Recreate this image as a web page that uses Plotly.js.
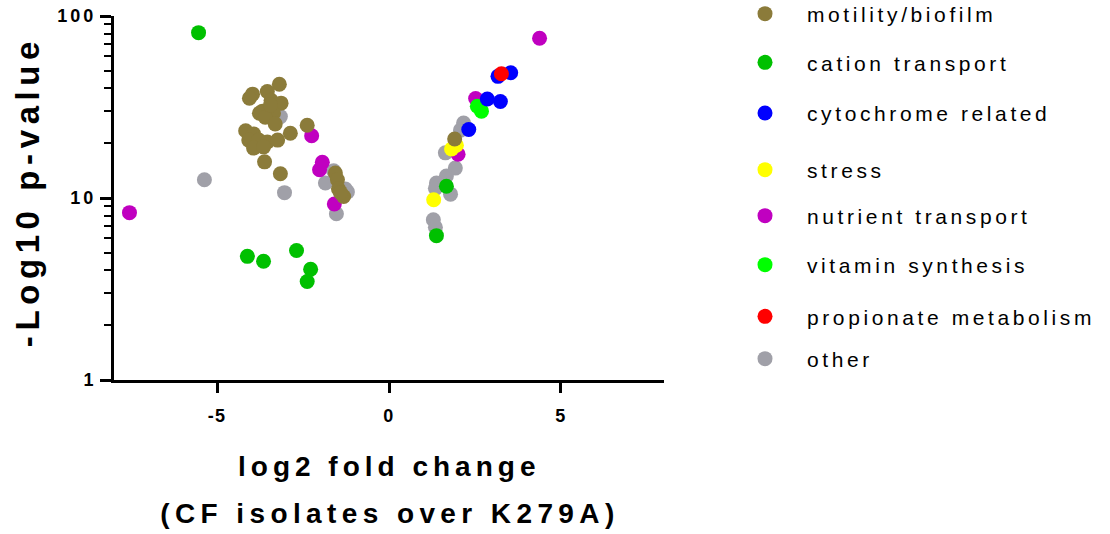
<!DOCTYPE html>
<html>
<head>
<meta charset="utf-8">
<script src="https://cdn.plot.ly/plotly-3.0.1.min.js"></script>
<style>
  html, body { margin: 0; padding: 0; background: #fff; }
  #chart { width: 1110px; height: 534px; }
  .annotation[data-index="0"] .annotation-text { letter-spacing: 5.6px; }
  .annotation[data-index="1"] .annotation-text { letter-spacing: 5px; }
  .annotation[data-index="2"] .annotation-text { letter-spacing: 5.4px; }
  .ytick text { letter-spacing: 3px; }
  .xtick text { letter-spacing: 1.5px; }
</style>
</head>
<body>
<div id="chart"></div>
<script>
// ---- data (log2 fold change, -log10 p-value) ----
const categories = ["motility/biofilm", "cation transport", "cytochrome related", "stress",
                    "nutrient transport", "vitamin synthesis", "propionate metabolism", "other"];

const motilityX = [-3.19,-3.97,-3.54,-3.43,-3.14,-4.06,-3.68,-3.77,-3.36,-3.60,-3.31,-2.38,-2.87,-4.17,-3.94,
                   -4.08,-3.79,-3.54,-3.24,-3.94,-3.65,-3.62,-3.16,-1.56,-1.50,-1.47,-1.32,-1.41,-3.45,1.91];
const motilityY = [42.2,37.2,38.5,34.4,33.2,35.3,30.0,29.2,29.2,27.8,25.5,25.1,22.7,23.4,22.5,
                   20.8,20.8,20.3,20.8,18.8,19.1,15.8,13.6,13.7,12.6,11.2,10.2,10.7,32.4,21.1];

const cationX = [-5.54,-4.12,-3.65,-2.69,-2.28,-2.38,1.67,1.38];
const cationY = [81,4.78,4.49,5.15,4.06,3.48,11.6,6.21];

const cytochromeX = [3.17,3.54,2.86,3.24,2.32];
const cytochromeY = [46.6,48.8,35.0,33.9,23.8];

const stressX = [1.30,1.82,1.96];
const stressY = [9.79,18.6,19.5];

const nutrientX = [-7.55,4.38,2.52,2.01,-2.25,-1.94,-2.02,-1.59];
const nutrientY = [8.31,75.4,35.2,17.4,22.0,15.7,14.3,9.27];

const vitaminX = [2.57,2.69];
const vitaminY = [31.9,30.0];

const propionateX = [3.27];
const propionateY = [48.2];

const otherX = [-5.37,-3.04,-3.16,-1.85,-1.27,-1.53,-1.61,-1.21,2.17,2.08,1.64,1.93,1.67,1.38,1.35,1.79,1.29,1.35];
const otherY = [12.6,10.7,28.0,12.1,11.2,8.2,14.1,10.8,25.8,23.6,17.7,14.6,13.2,12.1,11.3,10.5,7.6,6.9];

const yTickVals = [1, 10, 100];
const yTickText = ["1", "10", "100"];
const yMinorVals = [2,3,4,5,6,7,8,9,20,30,40,50,60,70,80,90];
const xTickVals = [-5, 0, 5];
const xTickText = ["-5", "0", "5"];

// ---- styling ----
const FONT = "Liberation Sans, Arial, Helvetica, sans-serif";
const LEGEND_SPACING = "3.6px";
const colors = {
  "motility/biofilm": "#8B7B3A",
  "cation transport": "#00C000",
  "cytochrome related": "#0000FF",
  "stress": "#FFFF00",
  "nutrient transport": "#C000C0",
  "vitamin synthesis": "#00FF00",
  "propionate metabolism": "#FF0000",
  "other": "#A0A0A8"
};
const series = {
  "motility/biofilm": [motilityX, motilityY],
  "cation transport": [cationX, cationY],
  "cytochrome related": [cytochromeX, cytochromeY],
  "stress": [stressX, stressY],
  "nutrient transport": [nutrientX, nutrientY],
  "vitamin synthesis": [vitaminX, vitaminY],
  "propionate metabolism": [propionateX, propionateY],
  "other": [otherX, otherY]
};
// drawing order (bottom to top)
const drawOrder = ["other", "nutrient transport", "stress", "motility/biofilm",
                   "cation transport", "vitamin synthesis", "cytochrome related", "propionate metabolism"];

// layout geometry
const L = 114, R = 446, T = 16, B = 154, W = 1110, H = 534;
const plotW = W - L - R, plotH = H - T - B;
const px2x = p => (p - L) / plotW;
const py2y = p => (H - B - p) / plotH;
const legendRowsPx = [14, 62.7, 113.3, 170, 216, 265, 316.7, 359];
const legendMarkerPx = 765;

const traces = drawOrder.map(name => {
  const idx = categories.indexOf(name);
  return {
    type: "scatter",
    mode: "markers",
    name: '<span style="letter-spacing:' + LEGEND_SPACING + '">' + name + '</span>',
    x: series[name][0],
    y: series[name][1],
    marker: { color: colors[name], size: 15, line: { width: 0 } },
    legend: idx === 0 ? "legend" : "legend" + (idx + 1),
    hoverinfo: "skip"
  };
});
// invisible helper trace that activates the overlay axis carrying the minor ticks
traces.push({
  type: "scatter", mode: "markers", x: [0], y: [10], yaxis: "y2",
  marker: { size: 1, opacity: 0 }, showlegend: false, hoverinfo: "skip"
});

const minorTicks = { ticks: "outside", ticklen: 7, tickwidth: 2, tickcolor: "#000" };

const layout = {
  width: W, height: H,
  margin: { l: L, r: R, t: T, b: B, pad: 0 },
  paper_bgcolor: "#fff", plot_bgcolor: "#fff",
  font: { family: FONT, color: "#000" },
  showlegend: true,
  xaxis: {
    range: [-8, 8],
    tickmode: "array", tickvals: xTickVals, ticktext: xTickText,
    ticks: "outside", ticklen: 10, tickwidth: 3, tickcolor: "#000",
    showline: true, linewidth: 3, linecolor: "#000",
    showgrid: false, zeroline: false,
    tickfont: { family: FONT, size: 18, color: "#000", weight: "bold" },
    ticklabelstandoff: 7
  },
  yaxis: {
    type: "log", range: [0, 2],
    tickmode: "array", tickvals: yTickVals, ticktext: yTickText,
    ticks: "outside", ticklen: 11, tickwidth: 3, tickcolor: "#000",
    showline: true, linewidth: 3, linecolor: "#000",
    showgrid: false, zeroline: false,
    tickfont: { family: FONT, size: 18, color: "#000", weight: "bold" },
    ticklabelstandoff: 0,
    minor: Object.assign({ tickmode: "array", tickvals: yMinorVals, showgrid: false }, minorTicks)
  },
  yaxis2: Object.assign({
    type: "log", range: [0, 2], overlaying: "y", side: "left", anchor: "x",
    tickmode: "array", tickvals: yMinorVals, ticktext: yMinorVals.map(() => ""),
    showticklabels: false, showline: false, showgrid: false, zeroline: false
  }, minorTicks),
  annotations: [
    { text: "-Log10 p-value", textangle: -90, xref: "paper", yref: "paper",
      x: px2x(28), y: py2y(192), xanchor: "center", yanchor: "middle", showarrow: false,
      font: { family: FONT, size: 33, color: "#000", weight: "bold" } },
    { text: "log2 fold change", xref: "paper", yref: "paper",
      x: px2x(389), y: py2y(466), xanchor: "center", yanchor: "middle", showarrow: false,
      font: { family: FONT, size: 28, color: "#000", weight: "bold" } },
    { text: "(CF isolates over K279A)", xref: "paper", yref: "paper",
      x: px2x(390), y: py2y(513), xanchor: "center", yanchor: "middle", showarrow: false,
      font: { family: FONT, size: 28, color: "#000", weight: "bold" } }
  ]
};

categories.forEach((name, i) => {
  const key = i === 0 ? "legend" : "legend" + (i + 1);
  layout[key] = {
    xref: "container", yref: "container",
    x: (legendMarkerPx - 42) / W, xanchor: "left",
    y: 1 - legendRowsPx[i] / H, yanchor: "middle",
    itemwidth: 74,
    bgcolor: "rgba(0,0,0,0)", borderwidth: 0,
    font: { family: FONT, size: 21, color: "#000" }
  };
});

Plotly.newPlot("chart", traces, layout, { displayModeBar: false, staticPlot: true });
</script>
</body>
</html>
